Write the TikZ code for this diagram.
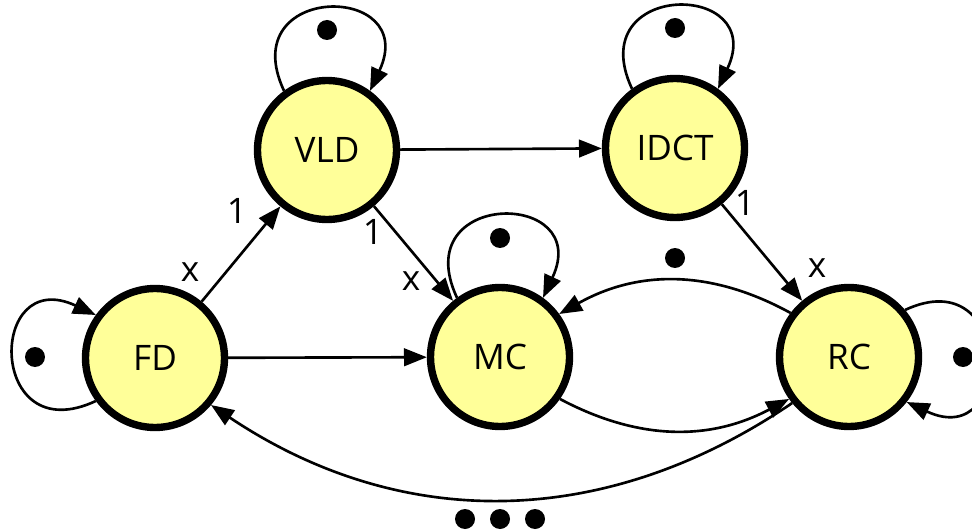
\documentclass[tikz,border=0pt]{standalone}
\usepackage{fontspec}
\setmainfont{Open Sans}
\usetikzlibrary{arrows.meta}
\definecolor{statefill}{RGB}{255,255,153}
\begin{document}
\begin{tikzpicture}[x=0.02cm,y=0.02cm,
		state/.style={circle,draw,line width=4.2pt,fill=statefill,minimum size=2.78cm,inner sep=0pt,font=\fontsize{20}{24}\selectfont},
		arc/.style={line width=1.5pt,-{Triangle[length=13pt,width=10pt]}},
		lbl/.style={inner sep=0pt,font=\fontsize{20}{24}\selectfont},
		tok/.style={circle,fill=black,inner sep=0pt,minimum size=0.4cm}]
		\useasboundingbox (0,0) rectangle (972,531);
		\node[state] (FD) at (155,173) {FD};
		\node[state] (VLD) at (327,381) {VLD};
		\node[state] (IDCT) at (675,383) {IDCT};
		\node[state] (MC) at (500,174) {MC};
		\node[state] (RC) at (849,174) {RC};
		\draw[arc] (FD) -- (VLD);
		\draw[arc] (VLD) -- (MC);
		\draw[arc] (VLD) -- (IDCT);
		\draw[arc] (IDCT) -- (RC);
		\draw[arc] (FD) -- (MC);
		\draw[arc] (RC.143) to[bend right=29] (MC.36);
		\draw[arc] (MC.-35) to[bend right=28] (RC.215);
		\draw[arc] (RC.219) to[bend left=34] (FD.-40);
		\draw[arc] (VLD.126) to[out=115,in=65,distance=2.4cm] (VLD.54);
		\draw[arc] (IDCT.126) to[out=115,in=65,distance=2.4cm] (IDCT.54);
		\draw[arc] (MC.126) to[out=115,in=65,distance=2.4cm] (MC.54);
		\draw[arc] (FD.216) to[out=205,in=155,distance=2.4cm] (FD.144);
		\draw[arc] (RC.40) to[out=25,in=-25,distance=2.4cm] (RC.-38);
		\node[lbl] (xFD) at (190,259) {x};
		\node[lbl] (oneVLD) at (237,320) {1};
		\node[lbl] (oneMC) at (373,299) {1};
		\node[lbl] (xMC) at (411,250) {x};
		\node[lbl] (oneIDCT) at (745,328) {1};
		\node[lbl] (xRC) at (817,263) {x};
		\node[tok] (tokVLD) at (327,501) {};
		\node[tok] (tokIDCT) at (675,503) {};
		\node[tok] (tokMC) at (500,293) {};
		\node[tok] (tokFD) at (35,174) {};
		\node[tok] (tokRC) at (963,174) {};
		\node[tok] (tokArc) at (675,273) {};
		\node[tok] (dotA) at (465,12) {};
		\node[tok] (dotB) at (500,12) {};
		\node[tok] (dotC) at (535,12) {};
	\end{tikzpicture}
\end{document}
